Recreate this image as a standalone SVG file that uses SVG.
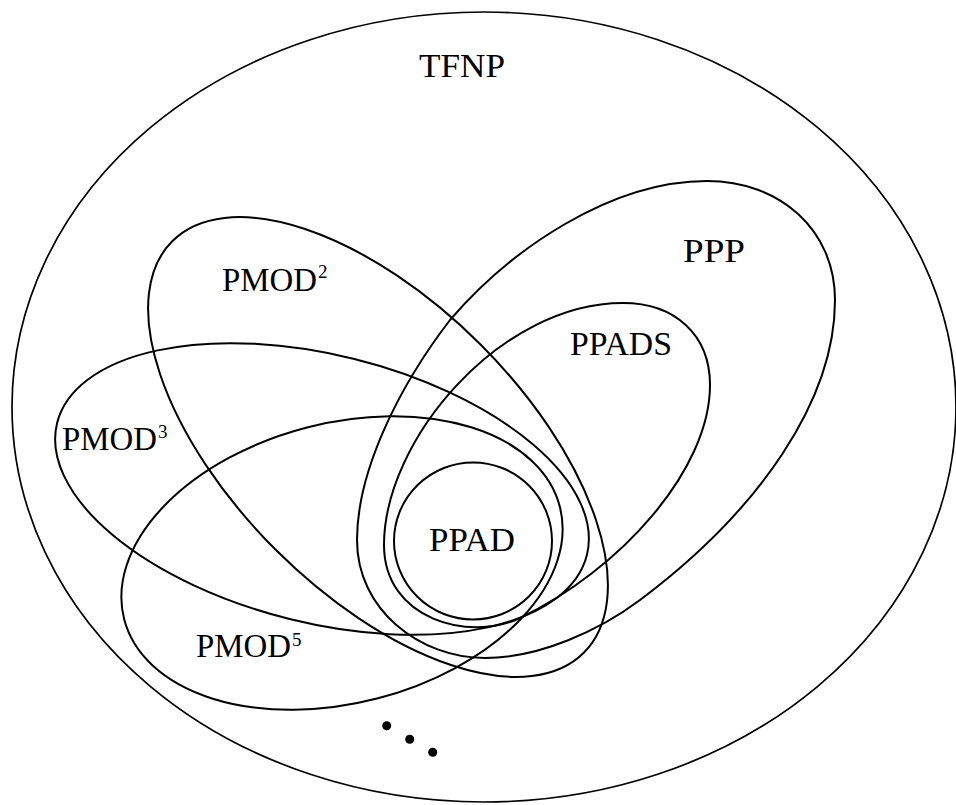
<svg xmlns="http://www.w3.org/2000/svg" width="956" height="805" viewBox="0 0 956 805">
  <style>
    .set { fill: none; stroke: #000; stroke-width: 2; }
    .outer { stroke-width: 1.7; }
    .lbl { font-family: "Liberation Serif", "DejaVu Serif", serif; font-size: 33px; fill: #000; }
    .sup { font-family: "Liberation Serif", "DejaVu Serif", serif; font-size: 19px; fill: #000; }
    .dot { fill: #000; }
  </style>
  <rect width="956" height="805" fill="#fff"/>

  <!-- outermost class -->
  <g id="tfnp">
    <ellipse class="set outer" cx="484" cy="407" rx="472" ry="395"/>
    <text class="lbl" x="419" y="77" textLength="86" lengthAdjust="spacingAndGlyphs">TFNP</text>
  </g>

  <!-- PPP: egg shape, tip towards PPAD -->
  <g id="ppp">
    <path class="set" d="M707,181 C780,181 835,230 835,300 C835,400 760,510 640,600 C600,630 540,658 485,658 C420,658 357,610 357,540 C357,470 400,385 450,320 C510,250 610,181 707,181 Z"/>
    <text class="lbl" x="683" y="262" textLength="62" lengthAdjust="spacingAndGlyphs">PPP</text>
  </g>

  <!-- PPADS: nested inside PPP -->
  <g id="ppads">
    <path class="set" d="M623,303 C675,303 710,335 710,385 C710,470 620,570 520,618 C470,642 384,620 384,545 C384,440 500,303 623,303 Z"/>
    <text class="lbl" x="570" y="355" textLength="102" lengthAdjust="spacingAndGlyphs">PPADS</text>
  </g>

  <!-- PMOD^2 -->
  <g id="pmod2">
    <ellipse class="set" cx="378" cy="447" rx="291" ry="145" transform="rotate(45 378 447)"/>
    <text class="lbl" x="222" y="291" textLength="95" lengthAdjust="spacingAndGlyphs">PMOD</text>
    <text class="sup" x="318" y="278">2</text>
  </g>

  <!-- PMOD^3 -->
  <g id="pmod3">
    <ellipse class="set" cx="322" cy="489" rx="273" ry="134" transform="rotate(14 322 489)"/>
    <text class="lbl" x="62" y="450" textLength="95" lengthAdjust="spacingAndGlyphs">PMOD</text>
    <text class="sup" x="158" y="438">3</text>
  </g>

  <!-- PMOD^5 -->
  <g id="pmod5">
    <ellipse class="set" cx="342" cy="563" rx="225" ry="140" transform="rotate(-14.5 342 563)"/>
    <text class="lbl" x="196" y="657" textLength="95" lengthAdjust="spacingAndGlyphs">PMOD</text>
    <text class="sup" x="292" y="646">5</text>
  </g>

  <!-- innermost class -->
  <g id="ppad">
    <ellipse class="set" cx="473" cy="541" rx="79" ry="78.5"/>
    <text class="lbl" x="429" y="551" textLength="86" lengthAdjust="spacingAndGlyphs">PPAD</text>
  </g>

  <!-- further PMOD^k classes -->
  <g id="ellipsis">
    <circle class="dot" cx="386.7" cy="725.7" r="4.5"/>
    <circle class="dot" cx="409.7" cy="739.3" r="4.5"/>
    <circle class="dot" cx="432.7" cy="752.3" r="4.5"/>
  </g>
</svg>
